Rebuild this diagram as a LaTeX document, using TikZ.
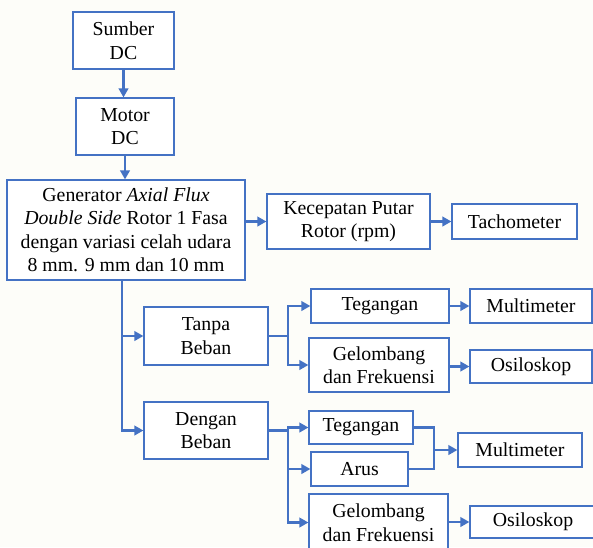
\documentclass[tikz,border=0pt]{standalone}
\usepackage{fontspec}
\setmainfont{Liberation Serif}
\usetikzlibrary{arrows.meta}
\definecolor{lineblue}{HTML}{4472C4}
\definecolor{bgpaper}{HTML}{FDFDF9}
\tikzset{
  box/.style={draw=lineblue, line width=1.2pt, fill=white, align=center, inner sep=0pt,
    font=\fontsize{19.8pt}{23.5pt}\selectfont},
  conn/.style={draw=lineblue, line width=2.4pt},
  arr/.style={conn, -{Triangle[length=9pt,width=9.5pt]}},
}
\begin{document}
\begin{tikzpicture}[x=1pt,y=-1pt]
\useasboundingbox (0,0) rectangle (593,547);
\clip (0,0) rectangle (593,547);
\fill[bgpaper] (0,0) rectangle (593,547);
\node[box, minimum width=101pt, minimum height=57pt] (sumber) at (123.5,40.5) {Sumber\\DC};
\node[box, minimum width=98pt, minimum height=57pt] (motor) at (125,126.5) {Motor\\DC};
\node[box, minimum width=238pt, minimum height=100pt] (gen) at (126,230) {Generator \textit{Axial Flux}\\\textit{Double Side} Rotor 1 Fasa\\dengan variasi celah udara\\8 mm. 9 mm dan 10 mm};
\node[box, minimum width=163pt, minimum height=55pt] (kec) at (348.5,221.5) {Kecepatan Putar\\Rotor (rpm)};
\node[box, minimum width=125pt, minimum height=35pt] (tach) at (514.5,221.5) {Tachometer};
\node[box, minimum width=124pt, minimum height=58pt] (tanpa) at (206,336) {Tanpa\\Beban};
\node[box, minimum width=138pt, minimum height=34pt] (teg1) at (380,306) {Tegangan};
\node[box, minimum width=140pt, minimum height=54pt] (gel1) at (379,365) {Gelombang\\dan Frekuensi};
\node[box, minimum width=122pt, minimum height=34pt] (mul1) at (531,306) {Multimeter};
\node[box, minimum width=122pt, minimum height=33pt] (osi1) at (531,366.5) {Osiloskop};
\node[box, minimum width=124pt, minimum height=57pt] (dengan) at (206,430.5) {Dengan\\Beban};
\node[box, minimum width=104pt, minimum height=33pt] (teg2) at (361,427.5) {Tegangan};
\node[box, minimum width=97pt, minimum height=34pt] (arus) at (359.5,469) {Arus};
\node[box, minimum width=139pt, minimum height=57pt] (gel2) at (378.5,522.5) {Gelombang\\dan Frekuensi};
\node[box, minimum width=124pt, minimum height=34pt] (mul2) at (520,450) {Multimeter};
\node[box, minimum width=126pt, minimum height=32pt] (osi2) at (533,522) {Osiloskop};
\coordinate (trunk) at (122,280);
\coordinate (split1) at (288,336);
\coordinate (split2) at (288,430.5);
\coordinate (merge) at (434,450);
\draw[arr] (sumber.south) -- (sumber.south |- motor.north);
\draw[arr] (motor.south) -- (motor.south |- gen.north);
\draw[arr] (gen.east |- kec.west) -- (kec.west);
\draw[arr] (kec.east) -- (tach.west);
\draw[arr] (trunk) |- (dengan.west);
\draw[arr] (trunk |- tanpa.west) -- (tanpa.west);
\draw[conn] (tanpa.east) -- (split1);
\draw[arr] (split1) |- (teg1.west);
\draw[arr] (split1) |- (gel1.west);
\draw[arr] (teg1.east) -- (mul1.west);
\draw[arr] (gel1.east |- osi1.west) -- (osi1.west);
\draw[conn] (dengan.east) -- (split2);
\draw[arr] (split2) |- (teg2.west);
\draw[arr] (split2) |- (arus.west);
\draw[arr] (split2) |- (gel2.west);
\draw[conn] (teg2.east) -| (merge);
\draw[conn] (arus.east) -| (merge);
\draw[arr] (merge) -- (mul2.west);
\draw[arr] (gel2.east |- osi2.west) -- (osi2.west);
\end{tikzpicture}
\end{document}
